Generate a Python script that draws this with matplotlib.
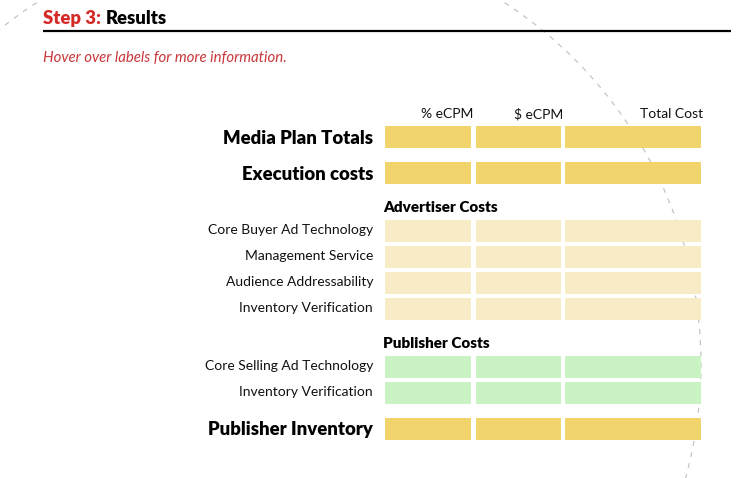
import matplotlib
matplotlib.use("Agg")
import matplotlib.pyplot as plt
from matplotlib.patches import Circle

# ---- data ----
title_step = "Step 3:"
title_main = "Results"
subtitle = "Hover over labels for more information."
column_labels = ["% eCPM", "$ eCPM", "Total Cost"]
row_labels = ["Media Plan Totals", "Execution costs",
              "Core Buyer Ad Technology", "Management Service",
              "Audience Addressability", "Inventory Verification",
              "Core Selling Ad Technology", "Inventory Verification",
              "Publisher Inventory"]
row_kinds = ["total", "total", "adv", "adv", "adv", "adv", "pub", "pub", "total"]
section_labels = ["Advertiser Costs", "Publisher Costs"]

# ---- layout (pixels) ----
W, H = 751, 478
fig = plt.figure(figsize=(W / 100, H / 100), dpi=100)
ax = fig.add_axes([0, 0, 1, 1])
ax.set_xlim(0, W)
ax.set_ylim(H, 0)
ax.axis("off")

FONT = ["Lato", "DejaVu Sans"]
colors = {"total": "#f2d46c", "adv": "#f7ecc6", "pub": "#c9f3c3"}
row_top = [126, 162, 220, 246, 272, 298, 356, 382, 418]
row_h = 22
col_left = [385, 476, 565]
col_right = [471, 561, 701]

# background dashed arc
ax.add_patch(Circle((270.5, 364), 430.5, fill=False, ec="#c4c4c4", lw=0.9,
                    ls=(0, (4, 5)), zorder=0))

# header
t = ax.text(43, 18.5, title_step, color="#d32a26", fontsize=13.3, fontweight="heavy",
            family=FONT, va="center", ha="left", zorder=3)
fig.canvas.draw()
bb = t.get_window_extent()
x_after = bb.x1 + 5
ax.text(x_after, 18.5, title_main, color="black", fontsize=13.3, fontweight="heavy",
        family=FONT, va="center", ha="left", zorder=3)
ax.plot([43, 731], [31, 31], color="black", lw=1.6, solid_capstyle="butt", zorder=3)
ax.text(43, 58, subtitle, color="#c9373a", fontsize=10.8, style="italic",
        family=FONT, va="center", ha="left", zorder=3)

# column headers
for lab, xr in zip(column_labels, col_right):
    ax.text(xr + 2, 114, lab, fontsize=10, family=FONT, ha="right", va="center",
            color="#111111", zorder=3)

# cells
for lab, kind, top in zip(row_labels, row_kinds, row_top):
    cy = top + row_h / 2
    for xl, xr in zip(col_left, col_right):
        ax.barh(cy, xr - xl, left=xl, height=row_h, color=colors[kind],
                edgecolor="none", zorder=2)
    if kind == "total":
        ax.text(373, cy + 1, lab, fontsize=13.3, fontweight="heavy", family=FONT,
                ha="right", va="center", color="black", zorder=3)
    else:
        ax.text(373, cy - 1.5, lab, fontsize=10, family=FONT,
                ha="right", va="center", color="#111111", zorder=3)

# section headers
for lab, y in zip(section_labels, [207, 343]):
    ax.text(383, y, lab, fontsize=11, fontweight="heavy", family=FONT,
            ha="left", va="center", color="black", zorder=3)

fig.savefig("out.png", dpi=100, facecolor="white")
